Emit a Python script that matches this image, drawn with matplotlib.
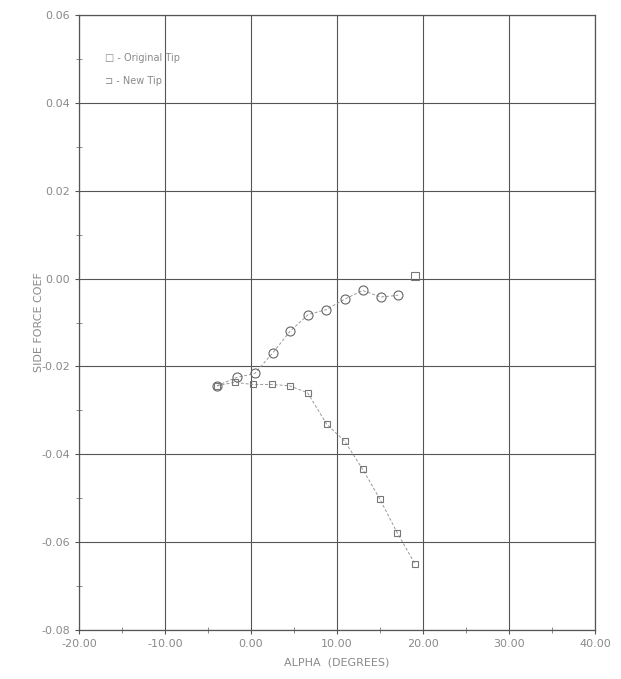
import matplotlib
matplotlib.use("Agg")
import matplotlib.pyplot as plt
from matplotlib.ticker import MultipleLocator, FormatStrFormatter

# Data
alpha_upper = [-3.95, -1.65, 0.45, 2.55, 4.55, 6.65, 8.7, 10.9, 13.0, 15.1, 17.1]
cy_upper = [-0.0244, -0.0225, -0.0216, -0.0169, -0.0120, -0.0082, -0.0071, -0.0047, -0.0027, -0.0042, -0.0038]
alpha_top = [19.07]
cy_top = [0.0007]

alpha_lower = [-3.95, -1.9, 0.2, 2.45, 4.5, 6.6, 8.8, 10.9, 13.0, 15.0, 17.0, 19.07]
cy_lower = [-0.0244, -0.0236, -0.0241, -0.0241, -0.0244, -0.0260, -0.0331, -0.0370, -0.0434, -0.0502, -0.0578, -0.0649]

xticks = [-20, -10, 0, 10, 20, 30, 40]
yticks = [-0.08, -0.06, -0.04, -0.02, 0.00, 0.02, 0.04, 0.06]
legend_labels = ["\u25a1 - Original Tip", "\u2290 - New Tip"]

txt = "#8a8a8a"
fig = plt.figure(figsize=(6.21, 6.79), dpi=100)
ax = fig.add_axes([0.127, 0.072, 0.831, 0.906])

ax.set_xlim(-20, 40)
ax.set_ylim(-0.08, 0.06)
ax.set_xticks(xticks)
ax.set_yticks(yticks)
ax.xaxis.set_major_formatter(FormatStrFormatter("%.2f"))
ax.yaxis.set_major_formatter(FormatStrFormatter("%.2f"))
ax.xaxis.set_minor_locator(MultipleLocator(5))
ax.yaxis.set_minor_locator(MultipleLocator(0.01))
ax.grid(True, which="major", color="#555555", linewidth=0.8)
ax.tick_params(which="major", direction="out", length=3, color="#555555",
               labelsize=8, labelcolor=txt)
ax.tick_params(which="minor", direction="inout", length=4, color="#777777")
for s in ax.spines.values():
    s.set_color("#555555")
    s.set_linewidth(0.9)

ax.plot(alpha_upper, cy_upper, linestyle=(0, (3, 2)), color="#999999", linewidth=0.7,
        marker="o", markersize=6.5, markerfacecolor="none", markeredgecolor="#666666",
        markeredgewidth=0.8, zorder=3)
ax.plot(alpha_top, cy_top, linestyle="none", marker="s", markersize=6,
        markerfacecolor="none", markeredgecolor="#777777", markeredgewidth=0.8, zorder=3)
ax.plot(alpha_lower, cy_lower, linestyle=(0, (3, 2)), color="#999999", linewidth=0.7,
        marker="s", markersize=5, markerfacecolor="none", markeredgecolor="#777777",
        markeredgewidth=0.8, zorder=3)

ax.text(0.05, 0.925, legend_labels[0], transform=ax.transAxes, fontsize=7, color=txt)
ax.text(0.05, 0.888, legend_labels[1], transform=ax.transAxes, fontsize=7, color=txt)

ax.set_xlabel("ALPHA  (DEGREES)", fontsize=8, color=txt, labelpad=6)
ax.set_ylabel("SIDE FORCE COEF", fontsize=8, color=txt, labelpad=-2)

fig.savefig("out.png", dpi=100)
